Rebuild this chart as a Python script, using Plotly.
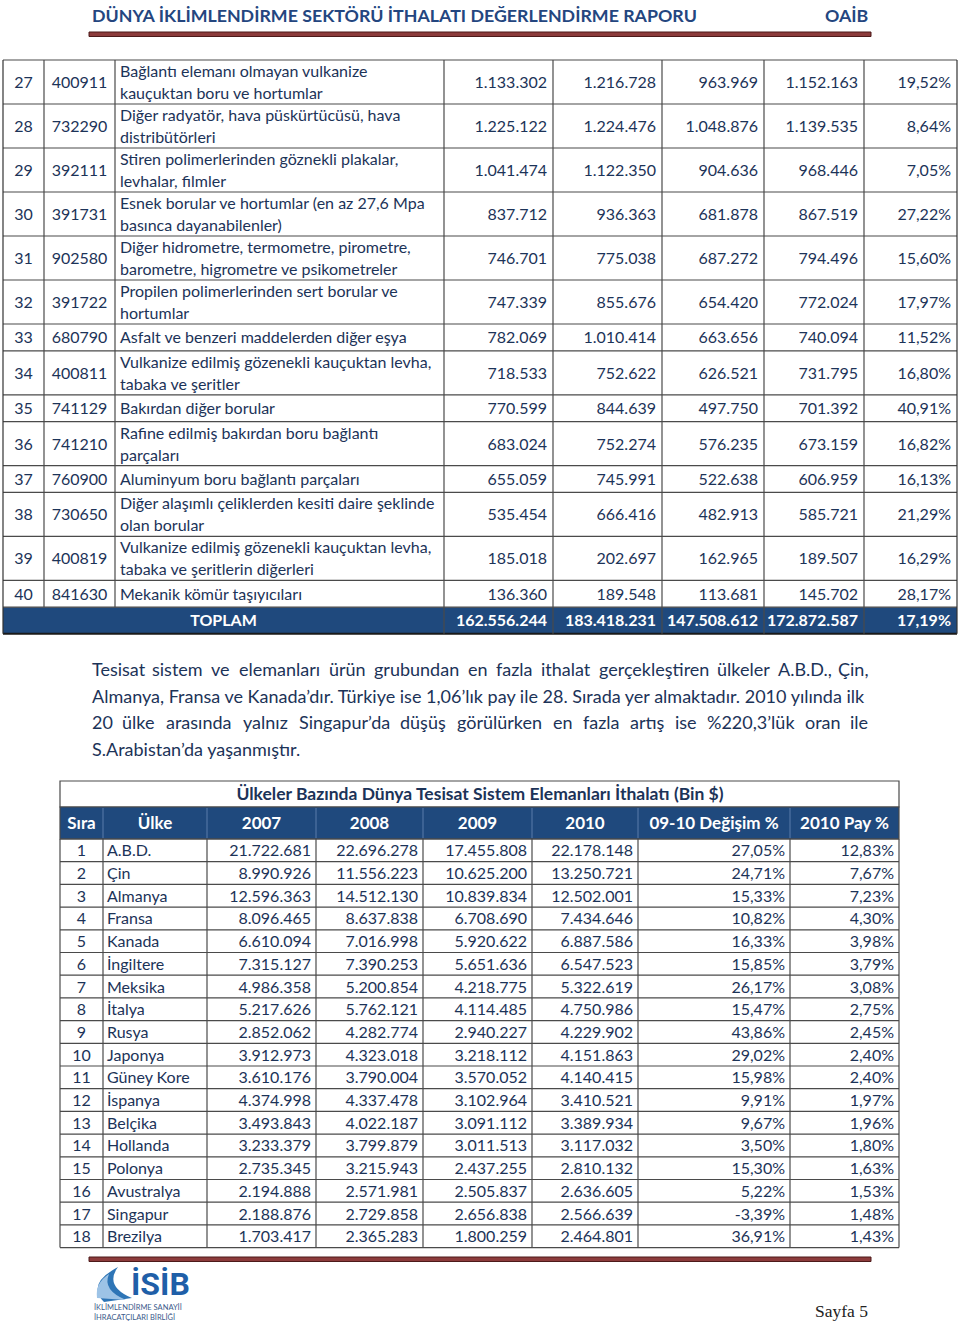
import plotly.graph_objects as go

# ---------------- data ----------------
t1_sira = list(range(27, 41))
t1_gtip = ["400911", "732290", "392111", "391731", "902580", "391722", "680790",
           "400811", "741129", "741210", "760900", "730650", "400819", "841630"]
t1_urun = [
    "Bağlantı elemanı olmayan vulkanize<br>kauçuktan boru ve hortumlar",
    "Diğer radyatör, hava püskürtücüsü, hava<br>distribütörleri",
    "Stiren polimerlerinden göznekli plakalar,<br>levhalar, filmler",
    "Esnek borular ve hortumlar (en az 27,6 Mpa<br>basınca dayanabilenler)",
    "Diğer hidrometre, termometre, pirometre,<br>barometre, higrometre ve psikometreler",
    "Propilen polimerlerinden sert borular ve<br>hortumlar",
    "Asfalt ve benzeri maddelerden diğer eşya",
    "Vulkanize edilmiş gözenekli kauçuktan levha,<br>tabaka ve şeritler",
    "Bakırdan diğer borular",
    "Rafine edilmiş bakırdan boru bağlantı<br>parçaları",
    "Aluminyum boru bağlantı parçaları",
    "Diğer alaşımlı çeliklerden kesiti daire şeklinde<br>olan borular",
    "Vulkanize edilmiş gözenekli kauçuktan levha,<br>tabaka ve şeritlerin diğerleri",
    "Mekanik kömür taşıyıcıları",
]
t1_2007 = [1133302, 1225122, 1041474, 837712, 746701, 747339, 782069,
           718533, 770599, 683024, 655059, 535454, 185018, 136360]
t1_2008 = [1216728, 1224476, 1122350, 936363, 775038, 855676, 1010414,
           752622, 844639, 752274, 745991, 666416, 202697, 189548]
t1_2009 = [963969, 1048876, 904636, 681878, 687272, 654420, 663656,
           626521, 497750, 576235, 522638, 482913, 162965, 113681]
t1_2010 = [1152163, 1139535, 968446, 867519, 794496, 772024, 740094,
           731795, 701392, 673159, 606959, 585721, 189507, 145702]
t1_degisim = [19.52, 8.64, 7.05, 27.22, 15.60, 17.97, 11.52,
              16.80, 40.91, 16.82, 16.13, 21.29, 16.29, 28.17]
toplam_yillar = [162556244, 183418231, 147508612, 172872587]
toplam_degisim = 17.19

t2_baslik = "Ülkeler Bazında Dünya Tesisat Sistem Elemanları İthalatı (Bin $)"
t2_kolonlar = ["Sıra", "Ülke", "2007", "2008", "2009", "2010", "09-10 Değişim %", "2010 Pay %"]
t2_sira = list(range(1, 19))
t2_ulke = ["A.B.D.", "Çin", "Almanya", "Fransa", "Kanada", "İngiltere", "Meksika", "İtalya",
           "Rusya", "Japonya", "Güney Kore", "İspanya", "Belçika", "Hollanda", "Polonya",
           "Avustralya", "Singapur", "Brezilya"]
t2_2007 = [21722681, 8990926, 12596363, 8096465, 6610094, 7315127, 4986358, 5217626, 2852062,
           3912973, 3610176, 4374998, 3493843, 3233379, 2735345, 2194888, 2188876, 1703417]
t2_2008 = [22696278, 11556223, 14512130, 8637838, 7016998, 7390253, 5200854, 5762121, 4282774,
           4323018, 3790004, 4337478, 4022187, 3799879, 3215943, 2571981, 2729858, 2365283]
t2_2009 = [17455808, 10625200, 10839834, 6708690, 5920622, 5651636, 4218775, 4114485, 2940227,
           3218112, 3570052, 3102964, 3091112, 3011513, 2437255, 2505837, 2656838, 1800259]
t2_2010 = [22178148, 13250721, 12502001, 7434646, 6887586, 6547523, 5322619, 4750986, 4229902,
           4151863, 4140415, 3410521, 3389934, 3117032, 2810132, 2636605, 2566639, 2464801]
t2_degisim = [27.05, 24.71, 15.33, 10.82, 16.33, 15.85, 26.17, 15.47, 43.86,
              29.02, 15.98, 9.91, 9.67, 3.50, 15.30, 5.22, -3.39, 36.91]
t2_pay = [12.83, 7.67, 7.23, 4.30, 3.98, 3.79, 3.08, 2.75, 2.45,
          2.40, 2.40, 1.97, 1.96, 1.80, 1.63, 1.53, 1.48, 1.43]

rapor_basligi = "DÜNYA İKLİMLENDİRME SEKTÖRÜ İTHALATI DEĞERLENDİRME RAPORU"
paragraf = [
    "Tesisat sistem ve elemanları ürün grubundan en fazla ithalat gerçekleştiren ülkeler A.B.D., Çin,",
    "Almanya, Fransa ve Kanada’dır. Türkiye ise 1,06’lık pay ile 28. Sırada yer almaktadır. 2010 yılında ilk",
    "20 ülke arasında yalnız Singapur’da düşüş görülürken en fazla artış ise %220,3’lük oran ile",
    "S.Arabistan’da yaşanmıştır.",
]


def sayi(v):
    return f"{v:,}".replace(",", ".")


def yuzde(v):
    return f"{v:.2f}%".replace(".", ",")


# ---------------- styling ----------------
W, H = 960, 1322
FONT = "Lato"
NAVY = "#1C3358"
BLUE = "#1F497D"
GRID = "#4a4a4a"
FS = 16
DY = 2  # small baseline correction for scatter text

fig = go.Figure()
shapes = []
annotations = []


def text_trace(xs, ys, texts, pos, color=NAVY, size=FS, bold=False):
    if bold:
        texts = [f"<b>{t}</b>" for t in texts]
    fig.add_trace(go.Scatter(
        x=xs, y=[y + DY for y in ys], text=texts, mode="text", textposition=pos,
        textfont=dict(family=FONT, size=size, color=color),
        hoverinfo="skip", showlegend=False,
    ))


def hline(x0, x1, y, color=GRID, width=1.2):
    shapes.append(dict(type="line", x0=x0, x1=x1, y0=y, y1=y,
                       line=dict(color=color, width=width), layer="above"))


def vline(x, y0, y1, color=GRID, width=1.2):
    shapes.append(dict(type="line", x0=x, x1=x, y0=y0, y1=y1,
                       line=dict(color=color, width=width), layer="above"))


# ---------------- page header ----------------
annotations.append(dict(x=90, y=15, text=f"<b>{rapor_basligi}</b>", showarrow=False,
                        xanchor="left", yanchor="middle",
                        font=dict(family=FONT, size=17.8, color="#24467F")))
annotations.append(dict(x=870, y=15, text="<b>OAİB</b>", showarrow=False,
                        xanchor="right", yanchor="middle",
                        font=dict(family=FONT, size=17.8, color="#24467F")))
shapes.append(dict(type="rect", x0=89, x1=871, y0=32, y1=36.5,
                   fillcolor="#8C3B3B", line=dict(color="#4d1a1a", width=1), layer="below"))

# ---------------- table 1 ----------------
e1 = [3, 44, 115, 444, 553, 662, 764, 864, 957]
top1 = 60
single, double = 26.8, 44.0
row_h = [double if "<br>" in u else single for u in t1_urun]
tops = [top1]
for h in row_h:
    tops.append(tops[-1] + h)
centers = [(tops[i] + tops[i + 1]) / 2 for i in range(len(row_h))]
tot_top = tops[-1]
tot_bot = tot_top + 26.5

shapes.append(dict(type="rect", x0=e1[0], x1=e1[-1], y0=tot_top, y1=tot_bot,
                   fillcolor=BLUE, line=dict(width=0), layer="below"))
for y in tops:
    hline(e1[0], e1[-1], y)
hline(e1[0], e1[-1], tot_bot, color="#1a1a1a", width=2)
for i, x in enumerate(e1):
    vline(x, top1, tot_top if i in (1, 2) else tot_bot,
          color=GRID if i not in (0, 8) else "#333", width=1.2)

text_trace([(e1[0] + e1[1]) / 2] * len(t1_sira), centers, [str(s) for s in t1_sira], "middle center")
text_trace([(e1[1] + e1[2]) / 2] * len(t1_gtip), centers, t1_gtip, "middle center")
# description lines, split on <br> with fixed line spacing
dx, dy, dt = [], [], []
for c, u in zip(centers, t1_urun):
    parts = u.split("<br>")
    for k, p in enumerate(parts):
        dx.append(e1[2] + 5)
        dy.append(c + (k - (len(parts) - 1) / 2) * 22)
        dt.append(p)
text_trace(dx, dy, dt, "middle right")
for j, col in enumerate([t1_2007, t1_2008, t1_2009, t1_2010]):
    text_trace([e1[4 + j] - 6] * len(col), centers, [sayi(v) for v in col], "middle left")
text_trace([e1[8] - 6] * len(t1_degisim), centers, [yuzde(v) for v in t1_degisim], "middle left")

tc = (tot_top + tot_bot) / 2
text_trace([(e1[0] + e1[3]) / 2], [tc], ["TOPLAM"], "middle center", color="white", bold=True)
text_trace([e1[4 + j] - 6 for j in range(4)], [tc] * 4, [sayi(v) for v in toplam_yillar],
           "middle left", color="white", bold=True)
text_trace([e1[8] - 6], [tc], [yuzde(toplam_degisim)], "middle left", color="white", bold=True)


# ---------------- paragraph (justified) ----------------
LATO_EM = {
    "i": .24, "ı": .24, "l": .24, "j": .24, "İ": .28, "I": .28, ".": .22, ",": .22, "’": .2,
    "t": .34, "f": .31, "r": .36, "s": .41, "ş": .41, "c": .45, "ç": .45, "z": .45,
    "e": .52, "a": .51, "y": .5, "v": .5, "k": .5, "g": .5, "ğ": .5, "m": .84, "%": .78,
    "T": .56, "A": .66, "B": .62, "D": .72, "Ç": .66, "S": .5,
}


def est_width(word, size):
    w = 0
    for ch in word:
        if ch in LATO_EM:
            w += LATO_EM[ch]
        elif ch.isdigit():
            w += 0.58
        elif ch.isupper():
            w += 0.64
        else:
            w += 0.56
    return w * size


PS = 18
PX0, PX1 = 90, 870
py = [669, 695.5, 722, 748.5]
for li, line in enumerate(paragraf):
    if li in (1, 3):
        annotations.append(dict(x=PX0, y=py[li], text=line, showarrow=False,
                                xanchor="left", yanchor="middle",
                                font=dict(family=FONT, size=PS, color=NAVY)))
        continue
    words = line.split(" ")
    widths = [est_width(w, PS) for w in words]
    gap = (PX1 - PX0 - sum(widths)) / (len(words) - 1)
    x = PX0
    for k, w in enumerate(words):
        if k == 0:
            xa, xp = "left", x
        elif k == len(words) - 1:
            xa, xp = "right", PX1
        else:
            xa, xp = "center", x + widths[k] / 2
        annotations.append(dict(x=xp, y=py[li], text=w, showarrow=False,
                                xanchor=xa, yanchor="middle",
                                font=dict(family=FONT, size=PS, color=NAVY)))
        x += widths[k] + gap

# ---------------- table 2 ----------------
e2 = [60, 103, 207, 316, 423, 532, 638, 790, 899]
t_top, h_top, d_top = 781, 807, 839
rh2 = 22.7
d_tops = [d_top + i * rh2 for i in range(len(t2_sira) + 1)]
c2 = [(d_tops[i] + d_tops[i + 1]) / 2 for i in range(len(t2_sira))]

shapes.append(dict(type="rect", x0=e2[0], x1=e2[-1], y0=t_top, y1=h_top,
                   fillcolor="white", line=dict(color=GRID, width=1.2), layer="below"))
shapes.append(dict(type="rect", x0=e2[0], x1=e2[-1], y0=h_top, y1=d_top,
                   fillcolor=BLUE, line=dict(color=GRID, width=1.2), layer="below"))
for x in e2[1:-1]:
    vline(x, h_top + 1, d_top - 1, color="#5b7cab", width=1)
for y in d_tops:
    hline(e2[0], e2[-1], y)
for x in e2:
    vline(x, d_top, d_tops[-1])

text_trace([480], [(t_top + h_top) / 2], [t2_baslik], "middle center", color=NAVY, size=17.5, bold=True)
text_trace([(e2[i] + e2[i + 1]) / 2 for i in range(8)], [(h_top + d_top) / 2] * 8, t2_kolonlar,
           "middle center", color="white", size=17, bold=True)
text_trace([(e2[0] + e2[1]) / 2] * 18, c2, [str(s) for s in t2_sira], "middle center")
text_trace([e2[1] + 4] * 18, c2, t2_ulke, "middle right")
for j, col in enumerate([t2_2007, t2_2008, t2_2009, t2_2010]):
    text_trace([e2[3 + j] - 5] * 18, c2, [sayi(v) for v in col], "middle left")
text_trace([e2[7] - 5] * 18, c2, [yuzde(v) for v in t2_degisim], "middle left")
text_trace([e2[8] - 5] * 18, c2, [yuzde(v) for v in t2_pay], "middle left")

# ---------------- footer ----------------
shapes.append(dict(type="rect", x0=89, x1=871, y0=1257, y1=1261.5,
                   fillcolor="#8C3B3B", line=dict(color="#4d1a1a", width=1), layer="below"))
shapes.append(dict(type="path", path="M 104 1302 Q 86 1284 118 1267 Q 104 1286 132 1298 Z",
                   fillcolor="#2E75B6", line=dict(width=0)))
shapes.append(dict(type="path", path="M 97 1298 Q 95 1283 109 1274 Q 102 1290 126 1300 Z",
                   fillcolor="#9DC3E6", line=dict(width=0)))
annotations.append(dict(x=129, y=1284, text="<b>İSİB</b>", showarrow=False,
                        xanchor="left", yanchor="middle",
                        font=dict(family="Roboto", size=32, color="#1F5FA8")))
annotations.append(dict(x=92, y=1312, text="İKLİMLENDİRME SANAYİİ<br>İHRACATÇILARI BİRLİĞİ",
                        showarrow=False, xanchor="left", yanchor="middle", align="left",
                        font=dict(family=FONT, size=7.5, color="#3a5a8a")))
annotations.append(dict(x=870, y=1311, text="Sayfa 5", showarrow=False,
                        xanchor="right", yanchor="middle",
                        font=dict(family="Liberation Serif", size=17.5, color="#222222")))

fig.update_layout(
    width=W, height=H,
    margin=dict(l=0, r=0, t=0, b=0),
    paper_bgcolor="white", plot_bgcolor="white",
    xaxis=dict(range=[0, W], visible=False, fixedrange=True),
    yaxis=dict(range=[H, 0], visible=False, fixedrange=True),
    shapes=shapes, annotations=annotations,
    showlegend=False,
)

fig.write_html("out.html", config={"displayModeBar": False},
               post_script="document.body.style.margin='0';")
